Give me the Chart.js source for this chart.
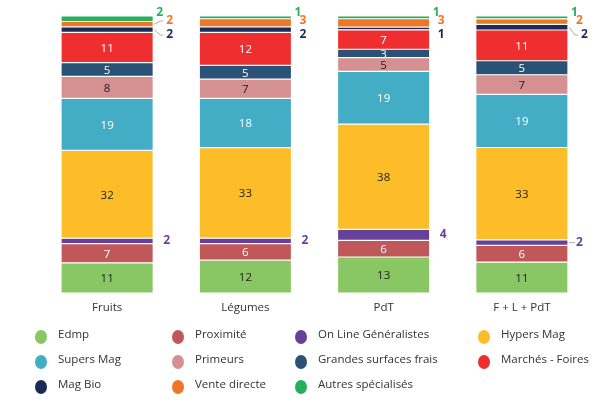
<!DOCTYPE html>
<html><head><meta charset="utf-8">
<script src="https://cdn.jsdelivr.net/npm/chart.js@4"></script>
<style>html,body{margin:0;padding:0;background:#fff}#wrap{width:616px;height:410px}</style>
</head><body><div id="wrap"><canvas id="c" width="616" height="410"></canvas></div>
<script>
const categories = ['Fruits', 'Légumes', 'PdT', 'F + L + PdT'];
const seriesNames = ['Edmp', 'Proximité', 'On Line Généralistes', 'Hypers Mag', 'Supers Mag', 'Primeurs', 'Grandes surfaces frais', 'Marchés - Foires', 'Mag Bio', 'Vente directe', 'Autres spécialisés'];
const edmp = [11, 12, 13, 11];
const proximite = [7, 6, 6, 6];
const onLine = [2, 2, 4, 2];
const hypers = [32, 33, 38, 33];
const supers = [19, 18, 19, 19];
const primeurs = [8, 7, 5, 7];
const gsFrais = [5, 5, 3, 5];
const marches = [11, 12, 7, 11];
const magBio = [2, 2, 1, 2];
const venteDirecte = [2, 3, 3, 2];
const autres = [2, 1, 1, 1];
const seriesValues = [edmp, proximite, onLine, hypers, supers, primeurs, gsFrais, marches, magBio, venteDirecte, autres];

const colors = ['#88C764', '#C05859', '#67409C', '#FDBD28', '#43ADC5', '#D59091', '#2A5276', '#EE2E2F', '#1C2A58', '#EE7627', '#26B05B'];
const insideText = ['#222', '#fff', null, '#222', '#fff', '#222', '#fff', '#fff', null, null, null];
// outside labels that get a small leader line: [series index, category index]
const leaders = [[9, 0], [8, 0], [8, 3], [2, 3]];

const totals = categories.map((_, i) => seriesValues.reduce((s, a) => s + a[i], 0));

const datasets = seriesNames.map((name, k) => ({
  label: name,
  data: seriesValues[k].map((v, i) => v / totals[i] * 100),
  raw: seriesValues[k],
  backgroundColor: colors[k],
  borderColor: 'rgba(255,255,255,0.45)',
  borderWidth: 0.6,
  borderSkipped: false,
  barPercentage: 0.667,
  categoryPercentage: 1
}));

const FONT = '"Open Sans", "Noto Sans", sans-serif';

const labelPlugin = {
  id: 'labels',
  afterDatasetsDraw(chart) {
    const ctx = chart.ctx;
    ctx.save();
    ctx.textBaseline = 'middle';
    chart.data.datasets.forEach((ds, k) => {
      const meta = chart.getDatasetMeta(k);
      meta.data.forEach((bar, i) => {
        const v = ds.raw[i];
        const top = Math.min(bar.y, bar.base), bot = Math.max(bar.y, bar.base);
        const cy = (top + bot) / 2;
        const right = bar.x + bar.width / 2;
        if (insideText[k]) {
          ctx.font = '11.5px ' + FONT;
          ctx.fillStyle = insideText[k];
          ctx.textAlign = 'center';
          ctx.fillText(String(v), bar.x, cy + 1);
        } else {
          const chartTop = chart.getDatasetMeta(chart.data.datasets.length - 1).data[i].y;
          let x, y;
          const hasLeader = leaders.some(p => p[0] === k && p[1] === i);
          if (k === 2) { x = right + (hasLeader ? 8 : 10); y = cy; }
          else if (k === 10) { x = right + 3; y = chartTop - 3; }
          else if (k === 9) { x = right + (hasLeader ? 11 : 8); y = chartTop + 5; }
          else { x = right + (hasLeader ? 11 : 8); y = chartTop + 19; }
          if (hasLeader) {
            ctx.strokeStyle = '#999';
            ctx.lineWidth = 0.8;
            ctx.beginPath();
            const sy = k === 2 ? cy : (top + bot) / 2;
            ctx.moveTo(right + 1, sy);
            ctx.lineTo(x - 4, y);
            ctx.lineTo(x - 1, y);
            ctx.stroke();
            if (k !== 2) { x += 2; }
          }
          ctx.font = 'bold 12px ' + FONT;
          ctx.fillStyle = colors[k];
          ctx.textAlign = 'left';
          ctx.fillText(String(v), x, y);
        }
      });
    });
    ctx.restore();
  }
};

const legendPlugin = {
  id: 'gridLegend',
  afterDraw(chart) {
    const ctx = chart.ctx;
    const dotX = [41, 178, 301, 484];
    const rowY = [337, 362, 387];
    ctx.save();
    ctx.font = '11.5px ' + FONT;
    ctx.textBaseline = 'middle';
    ctx.textAlign = 'left';
    chart.data.datasets.forEach((ds, k) => {
      const c = k % 4, r = Math.floor(k / 4);
      ctx.fillStyle = ds.backgroundColor;
      ctx.beginPath();
      ctx.ellipse(dotX[c], rowY[r], 6, 7, 0, 0, Math.PI * 2);
      ctx.fill();
      ctx.fillStyle = '#333';
      ctx.fillText(ds.label, dotX[c] + 17, rowY[r] - 2);
    });
    ctx.restore();
  }
};

new Chart(document.getElementById('c'), {
  type: 'bar',
  data: { labels: categories, datasets },
  options: {
    responsive: false,
    animation: false,
    layout: { padding: { left: 38, right: 25, top: 16, bottom: 93 } },
    plugins: { legend: { display: false }, tooltip: { enabled: false } },
    scales: {
      x: {
        stacked: true,
        grid: { display: false },
        border: { display: false },
        ticks: { color: '#333', font: { size: 11.5, family: FONT }, padding: 0 },
        afterFit(s) { s.height = 24; }
      },
      y: {
        stacked: true, display: false, min: 0, max: 100
      }
    }
  },
  plugins: [labelPlugin, legendPlugin]
});
</script></body></html>
